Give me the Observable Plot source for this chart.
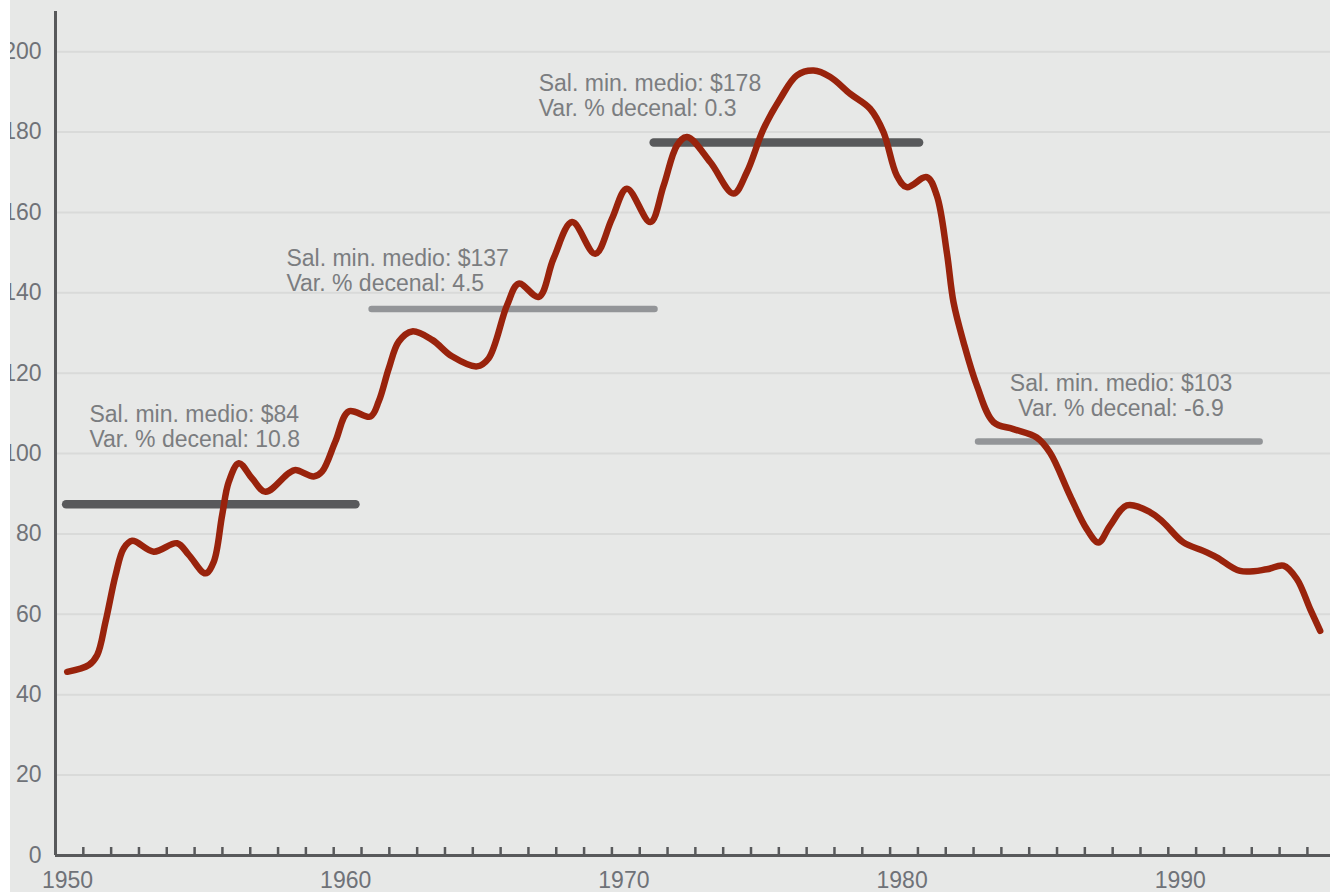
<!DOCTYPE html>
<html>
<head>
<meta charset="utf-8">
<script src="https://cdn.jsdelivr.net/npm/d3@7"></script>
<script src="https://cdn.jsdelivr.net/npm/@observablehq/plot@0.6"></script>
<style>
  html, body { margin: 0; padding: 0; background: #ffffff; }
  #wrap { padding-left: 10px; width: 1320px; height: 892px; overflow: hidden; }
  #wrap svg { overflow: hidden; display: block; }
</style>
</head>
<body>
<div id="wrap"></div>
<script>
// ---- Data ----
const years = [
  1950.42, 1951.20, 1951.50, 1951.80, 1952.16, 1952.45, 1952.76, 1953.53, 1954.37, 1954.79,
  1955.39, 1955.69, 1955.99, 1956.23, 1956.59, 1957.07, 1957.55, 1958.38, 1958.62, 1959.28,
  1959.58, 1960.06, 1960.54, 1961.32, 1961.62, 1961.98, 1962.34, 1962.82, 1963.54, 1964.25,
  1965.15, 1965.57, 1966.23, 1966.65, 1967.37, 1967.90, 1968.57, 1969.40, 1970.00, 1970.54,
  1971.38, 1971.86, 1972.34, 1972.70, 1973.54, 1974.37, 1974.85, 1975.45, 1976.05, 1976.65,
  1977.25, 1977.85, 1978.57, 1979.28, 1979.76, 1980.24, 1980.60, 1981.32, 1981.68, 1982.04,
  1982.28, 1982.64, 1983.12, 1983.72, 1984.43, 1985.27, 1985.75, 1986.47, 1987.07, 1987.49,
  1987.91, 1988.51, 1989.35, 1989.82, 1990.54, 1991.26, 1991.74, 1992.58, 1993.54, 1994.14,
  1994.62, 1995.10, 1995.46
];
const wage = [
  45.7, 47.4, 49.9, 58.2, 69.8, 76.4, 78.3, 75.6, 77.7, 74.8,
  70.2, 73.1, 84.7, 93.0, 97.6, 93.8, 90.5, 95.1, 95.9, 94.3,
  95.5, 103.0, 110.5, 109.2, 113.0, 121.2, 127.9, 130.4, 128.3, 124.2,
  121.7, 123.7, 136.9, 142.3, 139.0, 148.5, 157.6, 149.7, 158.4, 165.9,
  157.6, 166.7, 176.7, 178.8, 172.5, 164.7, 170.0, 180.8, 188.3, 194.1,
  195.3, 193.7, 189.5, 185.8, 180.0, 169.2, 166.3, 168.8, 164.2, 150.0,
  137.6, 127.7, 116.9, 107.8, 106.1, 104.0, 100.2, 89.5, 81.2, 77.9,
  82.1, 87.1, 85.4, 82.9, 77.9, 75.8, 74.2, 70.8, 71.2, 72.1,
  68.8, 61.3, 55.9
];

// Decade averages (horizontal bars)
const decadeStart = [1950.40, 1961.38, 1971.52, 1983.18];
const decadeEnd   = [1960.80, 1971.55, 1981.06, 1993.30];
const decadeValue = [87.4, 136.0, 177.4, 103.0];

// Annotation texts and their anchors (in data units)
const annLine1 = ["Sal. min. medio: $84", "Sal. min. medio: $137", "Sal. min. medio: $178", "Sal. min. medio: $103"];
const annLine2 = ["Var. % decenal: 10.8", "Var. % decenal: 4.5", "Var. % decenal: 0.3", "Var. % decenal: -6.9"];
const annX = [1951.22, 1958.30, 1967.37, 1988.30];
const annY = [112.3, 151.2, 194.7, 120.1];

// Axis ticks
const yTicks = [0, 20, 40, 60, 80, 100, 120, 140, 160, 180, 200];
const xLabelTicks = [1950, 1960, 1970, 1980, 1990];
const xMinorTicks = d3.range(1950, 1996);

// ---- Build tables ----
const series = years.map((t, i) => ({t, v: wage[i]}));
const decades = decadeStart.map((s, i) => ({x1: s, x2: decadeEnd[i], v: decadeValue[i], i}));
const notes = annLine1.map((a, i) => ({x: annX[i], y: annY[i], text: a + "\n" + annLine2[i], i}));

const darkGray = "#58595b";
const lightGray = "#939598";
const textGray = "#7b7d80";

const chart = Plot.plot({
  width: 1320,
  height: 892,
  marginLeft: 45,
  marginRight: 0,
  marginTop: 11,
  marginBottom: 37,
  style: {
    background: "#e7e8e7",
    fontFamily: "'Liberation Sans', Arial, Helvetica, sans-serif",
    fontSize: "23px",
    overflow: "hidden"
  },
  x: {domain: [1950, 1995.83], axis: null},
  y: {domain: [0, 210], axis: null},
  marks: [
    Plot.ruleY(yTicks.filter(d => d > 0), {stroke: "#d9dad9", strokeWidth: 2}),
    Plot.axisY({ticks: yTicks, tickSize: 0, tickPadding: 14, fill: "#6f7278", fontSize: 23}),
    Plot.axisX({ticks: xMinorTicks, tickSize: -8, fill: "none", stroke: darkGray, strokeWidth: 2.5}),
    Plot.axisX({ticks: xLabelTicks, tickSize: 0, tickPadding: 16, dx: 12, tickFormat: d => String(d), fill: "#6f7278", fontSize: 23}),
    Plot.ruleY([0], {stroke: darkGray, strokeWidth: 3}),
    Plot.ruleX([1950], {stroke: darkGray, strokeWidth: 3}),
    Plot.ruleY(decades.filter(d => d.i % 2 === 0), {y: "v", x1: "x1", x2: "x2", stroke: darkGray, strokeWidth: 8.5, strokeLinecap: "round"}),
    Plot.ruleY(decades.filter(d => d.i % 2 === 1), {y: "v", x1: "x1", x2: "x2", stroke: lightGray, strokeWidth: 6.5, strokeLinecap: "round"}),
    Plot.line(series, {x: "t", y: "v", stroke: "#99230c", strokeWidth: 6.5, curve: "catmull-rom", strokeLinecap: "round", strokeLinejoin: "round"}),
    Plot.text(notes.filter(d => d.i < 3), {x: "x", y: "y", text: "text", textAnchor: "start", lineAnchor: "top", lineHeight: 1.087, fill: textGray, fontSize: 23}),
    Plot.text(notes.filter(d => d.i === 3), {x: "x", y: "y", text: "text", textAnchor: "middle", lineAnchor: "top", lineHeight: 1.087, fill: textGray, fontSize: 23})
  ]
});

document.getElementById("wrap").appendChild(chart);
</script>
</body>
</html>
